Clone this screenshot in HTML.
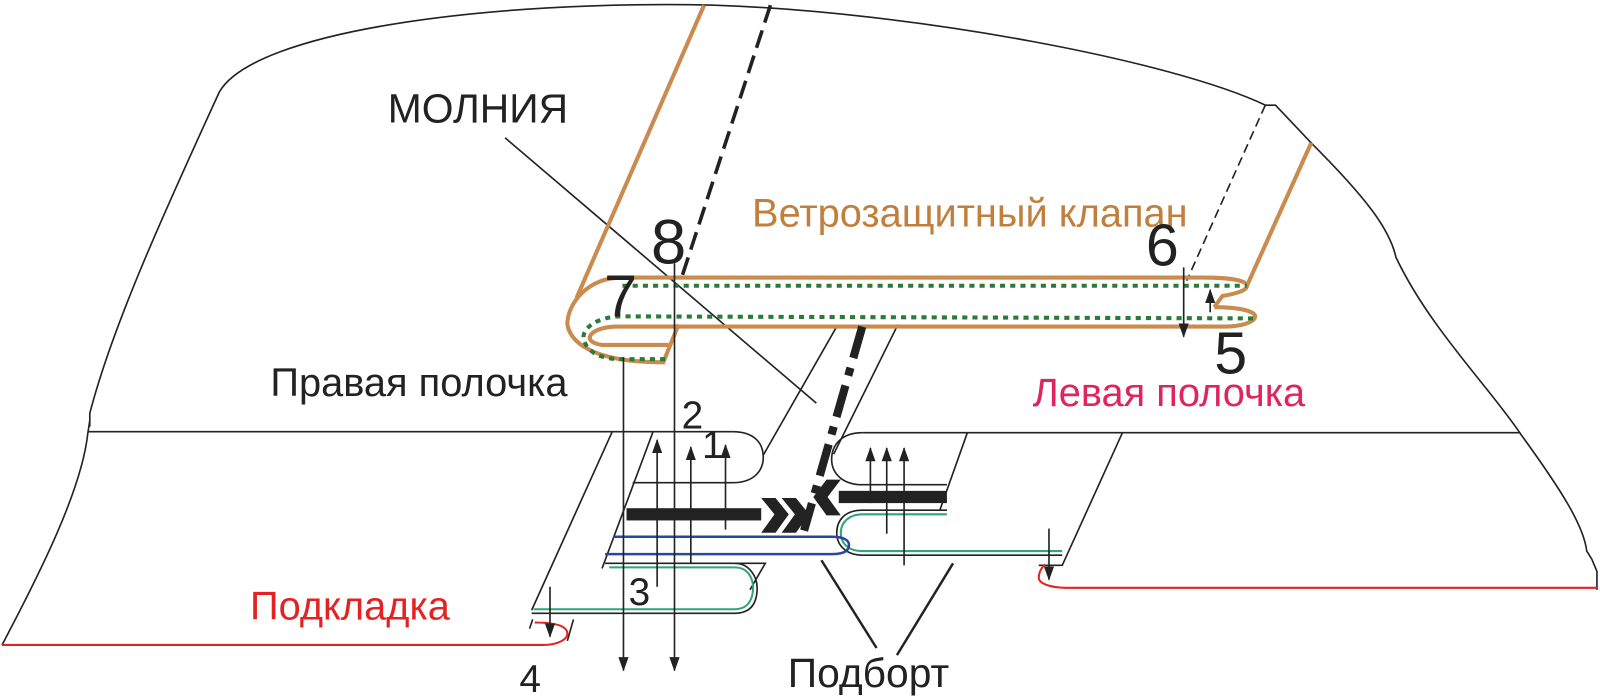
<!DOCTYPE html>
<html><head><meta charset="utf-8"><style>
html,body{margin:0;padding:0;background:#fff;}
svg{display:block;}
text{font-family:"Liberation Sans",sans-serif;}
</style></head><body>
<svg width="1600" height="696" viewBox="0 0 1568 682" xmlns="http://www.w3.org/2000/svg">
<defs>
<marker id="ah" markerWidth="14" markerHeight="10" refX="13" refY="5" orient="auto" markerUnits="userSpaceOnUse">
<path d="M0,0 L14,5 L0,10 Z" fill="#222"/></marker>
</defs>
<g fill="none" stroke="#222" stroke-width="1.6">
<path d="M88,418 L88,405 C110,320 160,210 215,90 C250,30 480,0 700,5 C900,12 1150,60 1240,103 L1250,103 L1285,140 C1340,195 1362,225 1368,252 C1400,320 1460,380 1490,425 C1530,480 1552,515 1555,540 L1560,548 L1565,560 L1565,578"/>
<path d="M88,412 L86,425 C80,480 40,560 2,632"/>
<path d="M86,423 L718,423"/>
<path d="M845,424 L1490,424"/>
<path d="M600,423 L521,598"/>
<path d="M640,423 L590,557"/>
<path d="M718,423 C740,423 748,435 748,448 C748,462 738,473 718,473 L620,473"/>
<path d="M820,320 L748,446"/>
<path d="M880,318 L817,445"/>
<path d="M845,424 C825,424 815,436 815,450 C815,464 826,475 845,475 L928,475"/>
<path d="M948,424 L921,500"/>
<path d="M593,552 L750,552 L735,578"/>
<path d="M521,601 L720,601 C740,601 742,585 742,576 C742,566 735,552 720,552"/>
<path d="M519,616 L522,607 M556,628 L562,607"/>
<path d="M928,500 L845,500 C828,500 820,510 820,522 C820,535 830,544 845,544 L1041,544"/>
<path d="M1100,424 L1041,554 L1018,554"/>
<path d="M495,135 L800,395"/>
<path d="M805,549 L859,635 M934,552 L879,642" stroke-width="2.4"/>
<path d="M755,5 L668,272" stroke-width="3.5" stroke-dasharray="18 8"/>
<path d="M1240,103 L1163,275" stroke-width="1.6" stroke-dasharray="9 5"/>
</g>
<g fill="none" stroke="#2fa67a" stroke-width="2">
<path d="M597,556 L720,556 C734,556 738,568 738,576 C738,586 734,597 720,597 L523,597"/>
<path d="M928,504 L845,504 C832,504 824,512 824,522 C824,533 832,540 845,540 L1041,540"/>
</g>
<path d="M601,526 L815,526 C828,526 832,530 832,534 C832,539 828,543 815,543 L593,543" fill="none" stroke="#2b46a0" stroke-width="2.5"/>
<g fill="none" stroke="#e52222" stroke-width="2">
<path d="M2,632 L532,632 C548,632 556,626 556,621 C556,612 540,610 524,610"/>
<path d="M1565,576 L1045,576 C1030,576 1018,572 1018,566 C1018,560 1022,555 1024,553"/>
</g>
<g fill="none" stroke="#c98b4e" stroke-width="4">
<path d="M690,5 L565,292"/>
<path d="M1285,140 L1222,280"/>
<path d="M1222,280 C1222,274 1200,272 1180,272 L610,272 C575,272 556,298 556,318 C560,340 590,355 650,355 L665,318"/>
<path d="M1200,320 L605,320 C578,320 568,335 590,338 L655,338"/>
<path d="M1222,280 C1222,285 1210,288 1198,290 L1190,301"/>
<path d="M1190,301 C1215,301 1230,305 1230,310 C1230,316 1215,320 1200,320"/>
</g>
<g fill="none" stroke="#2b7a3a" stroke-width="4" stroke-dasharray="5 5">
<path d="M610,280 L1222,280"/>
<path d="M1228,312 L610,310 C585,310 570,322 572,332 C575,346 590,352 610,352 L655,352"/>
</g>
<path d="M845,320 L788,520" fill="none" stroke="#222" stroke-width="8" stroke-dasharray="32 10 8 10"/>
<g fill="#222" stroke="none">
<rect x="614" y="498" width="132" height="12"/>
<path d="M746,488 L760,488 L773,504 L760,522 L746,522 L759,504 Z"/>
<path d="M766,488 L780,488 L793,504 L780,522 L766,522 L779,504 Z"/>
<rect x="822" y="481" width="106" height="12"/>
<path d="M824,470 L810,470 L797,487 L810,505 L824,505 L811,487 Z"/>
</g>
<g stroke="#222" stroke-width="1.6" fill="none">
<line x1="611" y1="350" x2="611" y2="657" marker-end="url(#ah)"/>
<line x1="661" y1="258" x2="661" y2="657" marker-end="url(#ah)"/>
<line x1="644" y1="575" x2="644" y2="431" marker-end="url(#ah)"/>
<line x1="677" y1="552" x2="677" y2="438" marker-end="url(#ah)"/>
<line x1="711" y1="519" x2="711" y2="436" marker-end="url(#ah)"/>
<line x1="853" y1="493" x2="853" y2="439" marker-end="url(#ah)"/>
<line x1="869" y1="523" x2="869" y2="439" marker-end="url(#ah)"/>
<line x1="886" y1="554" x2="886" y2="439" marker-end="url(#ah)"/>
<line x1="539" y1="575" x2="539" y2="624" marker-end="url(#ah)"/>
<line x1="1028" y1="518" x2="1028" y2="568" marker-end="url(#ah)"/>
<line x1="1160" y1="262" x2="1160" y2="330" marker-end="url(#ah)"/>
<line x1="1186" y1="306" x2="1186" y2="284" marker-end="url(#ah)"/>
</g>
<text x="380" y="120" font-size="40" fill="#222">МОЛНИЯ</text>
<text x="737" y="222" font-size="39" fill="#c17f3e">Ветрозащитный клапан</text>
<text x="265" y="388" font-size="39" fill="#222">Правая полочка</text>
<text x="1012" y="398" font-size="39" fill="#e0245e">Левая полочка</text>
<text x="245" y="607" font-size="39" fill="#e52222">Подкладка</text>
<text x="772" y="673" font-size="40" fill="#222">Подборт</text>
<text x="638" y="258" font-size="62" fill="#222">8</text>
<text x="592" y="310" font-size="58" fill="#222">7</text>
<text x="1123" y="260" font-size="58" fill="#222">6</text>
<text x="1190" y="366" font-size="58" fill="#222">5</text>
<text x="668" y="420" font-size="38" fill="#222">2</text>
<text x="688" y="449" font-size="38" fill="#222">1</text>
<text x="616" y="593" font-size="38" fill="#222">3</text>
<text x="509" y="678" font-size="38" fill="#222">4</text>
</svg>
</body></html>
